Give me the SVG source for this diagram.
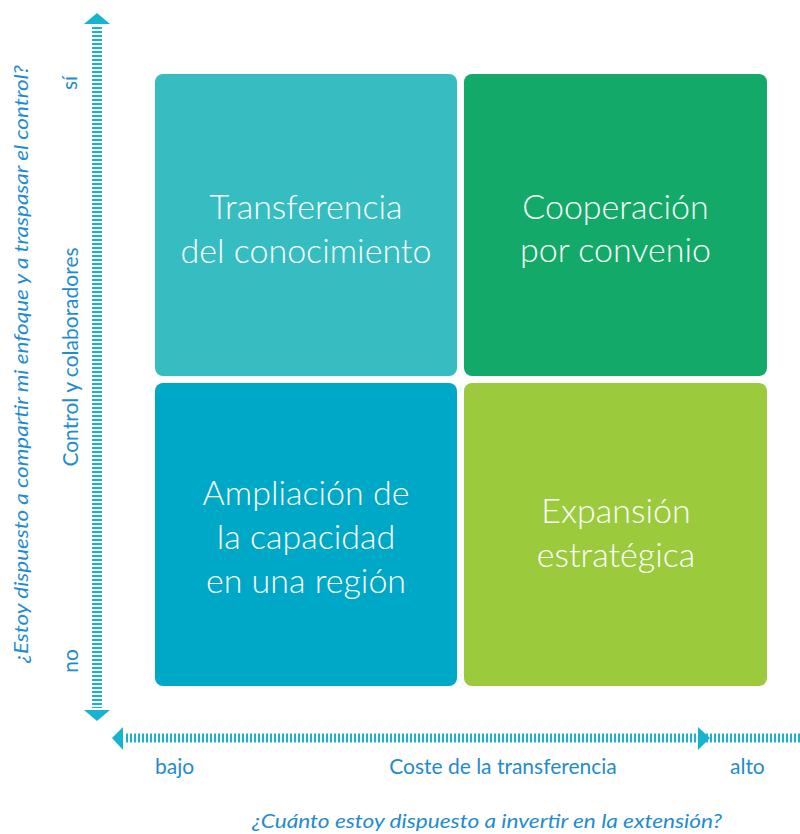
<svg xmlns="http://www.w3.org/2000/svg" width="800" height="834" viewBox="0 0 800 834">
<style>
.box-text{font-family:Lato,"Liberation Sans",sans-serif;font-size:34px;font-weight:300;fill:#ffffff;text-anchor:middle}
.axis-text{font-family:Lato,"Liberation Sans",sans-serif;font-size:21px;fill:#1f8bd0}
.q{font-family:Lato,"Liberation Sans",sans-serif;font-size:20px;font-style:italic;fill:#1f8bd0}
.dash{stroke:#17b3cf;stroke-dasharray:2 2;fill:none}
.head{fill:#17b3cf}
</style>
<rect width="800" height="834" fill="#ffffff"/>
<g id="connectors">
  <line class="dash" x1="97" y1="27" x2="97" y2="708" stroke-width="10"/>
  <polygon class="head" points="97,13 110,24 84,24"/>
  <polygon class="head" points="97,721 110,710 84,710"/>
  <line class="dash" x1="126" y1="738" x2="800" y2="738" stroke-width="9"/>
  <polygon class="head" points="112,738 123,727 123,750"/>
  <polygon class="head" points="710,738 698,727 698,750"/>
</g>
<g id="q1">
  <rect x="155" y="74" width="302" height="302" rx="8" fill="#36bdc2"/>
  <text class="box-text"><tspan x="306" y="219">Transferencia</tspan><tspan x="306" y="263">del conocimiento</tspan></text>
</g>
<g id="q2">
  <rect x="464" y="74" width="303" height="302" rx="8" fill="#13aa69"/>
  <text class="box-text"><tspan x="615.5" y="219">Cooperación</tspan><tspan x="615.5" y="262">por convenio</tspan></text>
</g>
<g id="q3">
  <rect x="155" y="383" width="302" height="303" rx="8" fill="#00a8c8"/>
  <text class="box-text"><tspan x="306" y="505">Ampliación de</tspan><tspan x="306" y="549">la capacidad</tspan><tspan x="306" y="593">en una región</tspan></text>
</g>
<g id="q4">
  <rect x="464" y="383" width="303" height="303" rx="8" fill="#9bca3c"/>
  <text class="box-text"><tspan x="616" y="523">Expansión</tspan><tspan x="616" y="567">estratégica</tspan></text>
</g>
<g id="labels">
  <text class="axis-text" transform="translate(77,83) rotate(-90)" text-anchor="middle">sí</text>
  <text class="axis-text" transform="translate(78,661) rotate(-90)" text-anchor="middle">no</text>
  <text class="axis-text" transform="translate(78,357) rotate(-90)" text-anchor="middle">Control y colaboradores</text>
  <text class="q" transform="translate(28,364) rotate(-90)" text-anchor="middle" textLength="598" lengthAdjust="spacingAndGlyphs">¿Estoy dispuesto a compartir mi enfoque y a traspasar el control?</text>
  <text class="axis-text" x="155" y="774">bajo</text>
  <text class="axis-text" x="503" y="774" text-anchor="middle">Coste de la transferencia</text>
  <text class="axis-text" x="730" y="774">alto</text>
  <text class="q" x="487" y="828" text-anchor="middle" textLength="470" lengthAdjust="spacingAndGlyphs">¿Cuánto estoy dispuesto a invertir en la extensión?</text>
</g>
</svg>
